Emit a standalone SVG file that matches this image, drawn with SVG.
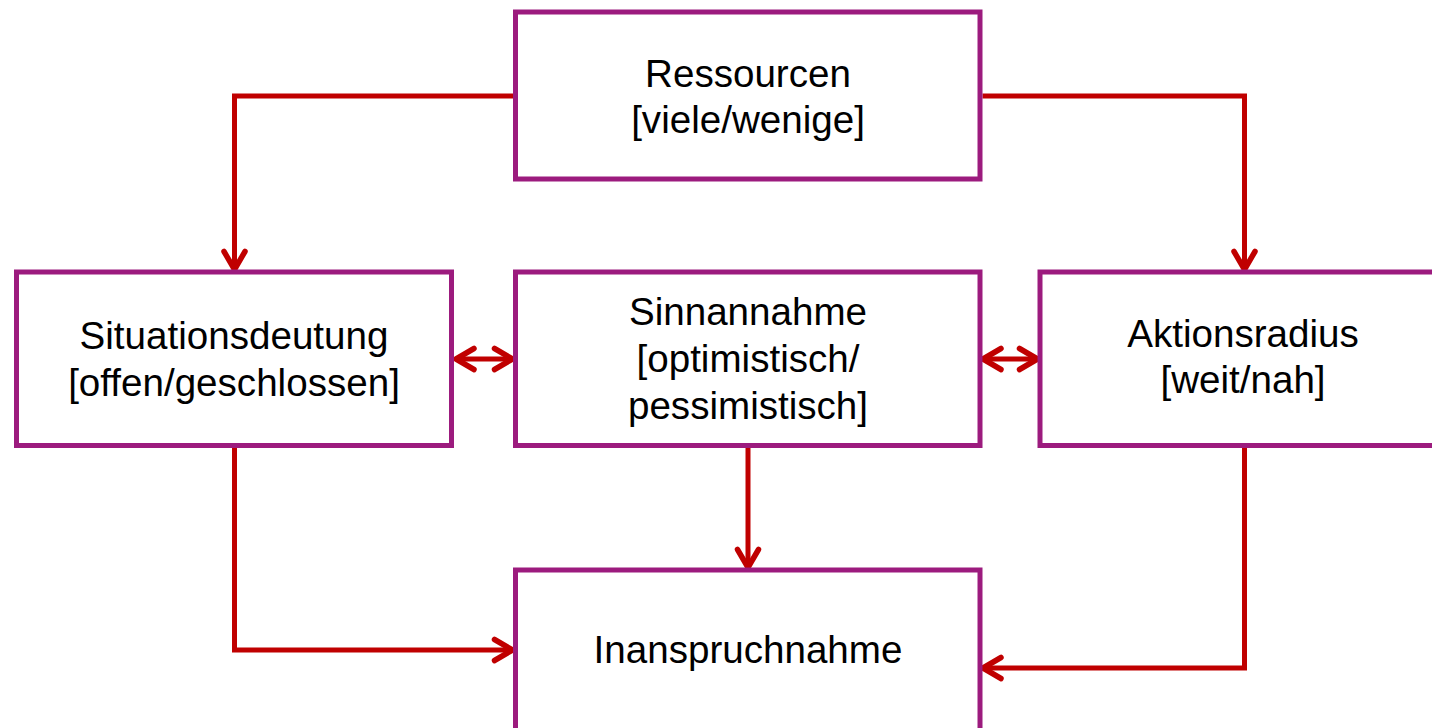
<svg xmlns="http://www.w3.org/2000/svg" width="1432" height="728" viewBox="0 0 1432 728">
<style>
.box{fill:#FFFFFF;stroke:#9C1B7E;stroke-width:5}
.lbl{font-family:"Liberation Sans",Arial,sans-serif;font-size:38.6px;fill:#000000;text-anchor:middle}
.con{fill:none;stroke:#C00000;stroke-width:5;stroke-linejoin:miter}
</style>
<defs>
<marker id="arr" markerUnits="userSpaceOnUse" viewBox="-26 -16 32 32" refX="0" refY="0" markerWidth="32" markerHeight="32" orient="auto-start-reverse">
<path d="M-18,-10.5 L0,0 L-18,10.5" fill="none" stroke="#C00000" stroke-width="5.5" stroke-linecap="round" stroke-linejoin="round"/>
</marker>
</defs>
<rect width="1432" height="728" fill="#FFFFFF"/>
<g id="connectors">
<polyline class="con" points="513,96 234.5,96 234.5,269.5" marker-end="url(#arr)"/>
<polyline class="con" points="982.5,96 1244.5,96 1244.5,269.5" marker-end="url(#arr)"/>
<polyline class="con" points="234.5,448 234.5,650 512.5,650" marker-end="url(#arr)"/>
<polyline class="con" points="1244.5,448 1244.5,668 983,668" marker-end="url(#arr)"/>
<polyline class="con" points="748,448 748,567.5" marker-end="url(#arr)"/>
<polyline class="con" points="456,359 512.5,359" marker-start="url(#arr)" marker-end="url(#arr)"/>
<polyline class="con" points="983,359 1037.5,359" marker-start="url(#arr)" marker-end="url(#arr)"/>
</g>
<g id="ressourcen">
<rect class="box" x="515.5" y="12" width="464.5" height="167"/>
<text class="lbl" x="748" y="87">Ressourcen</text>
<text class="lbl" x="748" y="133">[viele/wenige]</text>
</g>
<g id="situationsdeutung">
<rect class="box" x="16.5" y="272" width="435" height="173.5"/>
<text class="lbl" x="234" y="349">Situationsdeutung</text>
<text class="lbl" x="234" y="396">[offen/geschlossen]</text>
</g>
<g id="sinnannahme">
<rect class="box" x="515.5" y="272" width="464.5" height="173.5"/>
<text class="lbl" x="748" y="325">Sinnannahme</text>
<text class="lbl" x="748" y="372">[optimistisch/</text>
<text class="lbl" x="748" y="419">pessimistisch]</text>
</g>
<g id="aktionsradius">
<rect class="box" x="1040" y="272" width="420" height="173.5"/>
<text class="lbl" x="1243" y="347">Aktionsradius</text>
<text class="lbl" x="1243" y="393">[weit/nah]</text>
</g>
<g id="inanspruchnahme">
<rect class="box" x="515.5" y="570" width="464.5" height="200"/>
<text class="lbl" x="748" y="663">Inanspruchnahme</text>
</g>
</svg>
